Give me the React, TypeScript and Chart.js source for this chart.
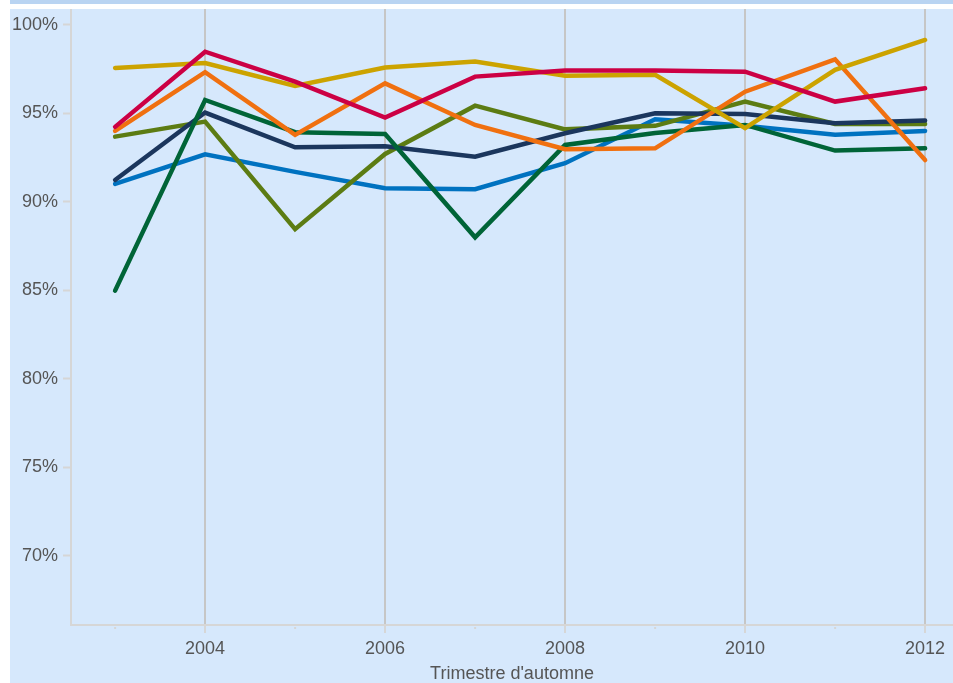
import React, { useEffect, useRef } from "react";
import { Chart, registerables } from "chart.js";

Chart.register(...registerables);

const years = [2003, 2004, 2005, 2006, 2007, 2008, 2009, 2010, 2011, 2012];
const yTicks = [70, 75, 80, 85, 90, 95, 100];

const gold = [97.57, 97.85, 96.55, 97.59, 97.93, 97.13, 97.18, 94.17, 97.46, 99.15];
const crimson = [94.24, 98.49, 96.8, 94.77, 97.08, 97.42, 97.42, 97.36, 95.67, 96.42];
const orange = [94.01, 97.33, 93.79, 96.7, 94.35, 92.98, 93.03, 96.23, 98.06, 92.37];
const darkGreen = [84.99, 95.76, 93.94, 93.84, 88.0, 93.22, 93.9, 94.35, 92.9, 93.03];
const navy = [91.24, 95.05, 93.09, 93.15, 92.56, 93.88, 95.01, 94.97, 94.45, 94.6];
const olive = [93.69, 94.54, 88.46, 92.71, 95.44, 94.1, 94.3, 95.67, 94.4, 94.4];
const blue = [91.02, 92.69, 91.7, 90.78, 90.72, 92.19, 94.67, 94.3, 93.79, 94.01];

const seriesNames = ["Série A", "Série B", "Série C", "Série D", "Série E", "Série F", "Série G"];
const seriesValues = [crimson, gold, orange, darkGreen, navy, olive, blue];
const seriesColors = ["#CC0044", "#CCA300", "#F07010", "#006437", "#1B365D", "#5C7C13", "#0072C0"];

const FONT = "'Liberation Sans', Arial, sans-serif";

export default function App() {
  const ref = useRef<HTMLCanvasElement | null>(null);

  useEffect(() => {
    if (!ref.current) return;
    const minorTicks = {
      id: "minorTicks",
      afterDraw(chart: any) {
        const sx = chart.scales.x;
        const ctx = chart.ctx;
        ctx.save();
        ctx.strokeStyle = "#d6d6d6";
        ctx.lineWidth = 2;
        years.forEach((yr) => {
          if (yr % 2 === 1) {
            const px = sx.getPixelForValue(yr);
            ctx.beginPath();
            ctx.moveTo(px, sx.top + 2);
            ctx.lineTo(px, sx.top + 4);
            ctx.stroke();
          }
        });
        ctx.restore();
      },
    };

    const chart = new Chart(ref.current, {
      type: "line",
      data: {
        datasets: seriesValues.map((vals, i) => ({
          label: seriesNames[i],
          data: years.map((yr, j) => ({ x: yr, y: vals[j] })),
          borderColor: seriesColors[i],
          backgroundColor: seriesColors[i],
          borderWidth: 4.5,
          pointRadius: 0,
          pointHoverRadius: 0,
          tension: 0,
          borderCapStyle: "round",
          borderJoinStyle: "miter",
          fill: false,
        })),
      },
      options: {
        animation: false,
        responsive: false,
        maintainAspectRatio: false,
        layout: { padding: 0 },
        plugins: {
          legend: { display: false },
          tooltip: { enabled: false },
        },
        scales: {
          x: {
            type: "linear",
            min: 2002.51,
            max: 2012.31,
            afterBuildTicks: (scale: any) => {
              scale.ticks = years.map((v) => ({ value: v }));
            },
            afterFit: (scale: any) => {
              scale.height = 58;
              scale.paddingLeft = 0;
              scale.paddingRight = 0;
            },
            ticks: {
              autoSkip: false,
              maxRotation: 0,
              padding: 5,
              color: "#555555",
              font: { family: FONT, size: 18 },
              callback: (v: any) => (Number(v) % 2 === 0 ? String(v) : ""),
            },
            grid: {
              drawOnChartArea: true,
              drawTicks: true,
              tickLength: 8,
              lineWidth: 2,
              color: (c: any) => (c.tick && c.tick.value % 2 === 0 ? "#c6c6c6" : "rgba(0,0,0,0)"),
              tickColor: (c: any) => (c.tick && c.tick.value % 2 === 0 ? "#d6d6d6" : "rgba(0,0,0,0)"),
              tickWidth: 2,
            },
            border: { display: true, color: "#d6d6d6", width: 2 },
            title: {
              display: true,
              text: "Trimestre d'automne",
              color: "#555555",
              font: { family: FONT, size: 18, lineHeight: 1 },
              padding: { top: 0, bottom: 0 },
            },
          },
          y: {
            type: "linear",
            min: 66.1,
            max: 100.9,
            afterBuildTicks: (scale: any) => {
              scale.ticks = yTicks.map((v) => ({ value: v }));
            },
            afterFit: (scale: any) => {
              scale.width = 61;
              scale.paddingTop = 0;
              scale.paddingBottom = 0;
            },
            ticks: {
              padding: 5,
              color: "#555555",
              font: { family: FONT, size: 18 },
              callback: (v: any) => `${v}%`,
            },
            grid: {
              drawOnChartArea: false,
              drawTicks: true,
              tickLength: 8,
              tickColor: "#d6d6d6",
              tickWidth: 2,
            },
            border: { display: true, color: "#d6d6d6", width: 2 },
          },
        },
      },
      plugins: [minorTicks],
    } as any);
    return () => chart.destroy();
  }, []);

  return (
    <div
      style={{
        position: "fixed",
        left: 0,
        top: 0,
        width: 953,
        height: 683,
        background: "#ffffff",
        overflow: "hidden",
      }}
    >
      <div
        style={{
          position: "absolute",
          left: 10,
          top: 0,
          width: 943,
          height: 4,
          background: "#b9d4f2",
        }}
      />
      <div
        style={{
          position: "absolute",
          left: 10,
          top: 9,
          width: 943,
          height: 674,
          background: "#d6e8fc",
        }}
      >
        <canvas ref={ref} width={943} height={674} style={{ display: "block", width: 943, height: 674 }} />
      </div>
    </div>
  );
}
